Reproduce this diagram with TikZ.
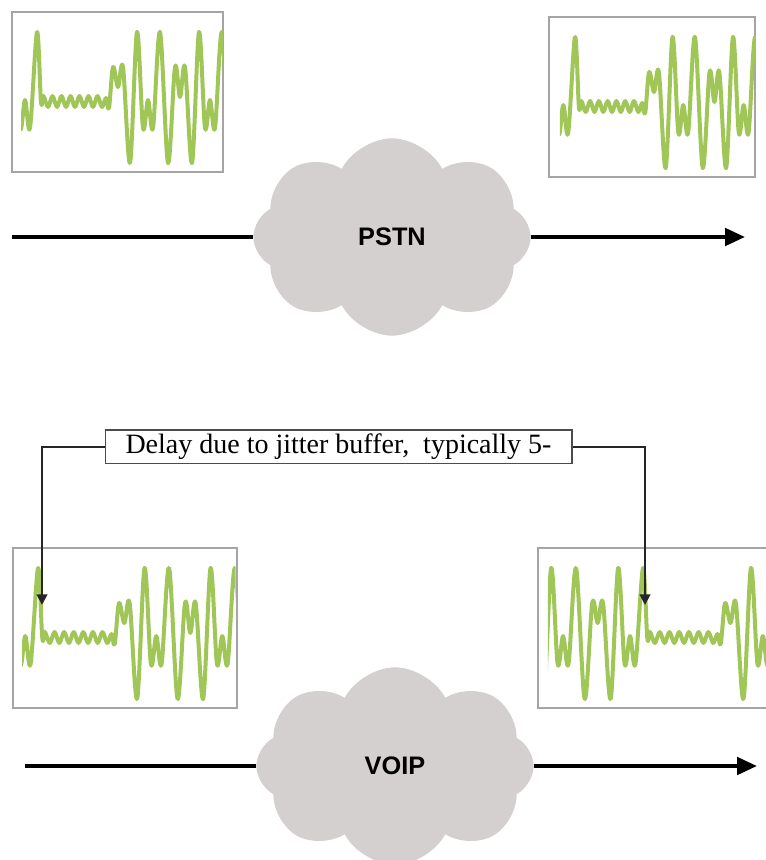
\documentclass[tikz,border=0pt]{standalone}
\usepackage{fontspec}
\setmainfont{Liberation Serif}
\setsansfont{Liberation Sans}
\usetikzlibrary{shapes.symbols,arrows.meta}

\definecolor{wavegreen}{RGB}{160,198,88}
\definecolor{cloudgray}{RGB}{213,208,208}
\definecolor{framegray}{RGB}{165,165,165}

% one stretch of the voice signal: burst, quiet ripple, burst
\newcommand{\signalpath}{plot[smooth,tension=0.55] coordinates {(-120,151) (-113,55) (-108,75) (-103,55) (-96,151) (-89,20) (-83,116) (-78,88) (-73,116) (-66,20) (-58,151) (-51,55) (-46,75) (-41,55) (-34,151) (-27,20) (-21,116) (-16,88) (-11,116) (-4,20) (0,90) (2.5,84) (7,95) (11.5,84) (16,95) (20.5,84) (25,95) (29.5,84) (34,95) (38.5,84) (43,95) (47.5,84) (52,95) (56.5,84) (61,95) (65,86) (68,96) (72,55) (77,75) (82,55) (89,151) (96,20) (102,116) (107,88) (112,116) (119,20) (127,151) (134,55) (139,85) (144,55) (151,151) (158,20) (164,116) (169,88) (174,116) (181,20) (189,151) (196,55)}}

\begin{document}
\begin{tikzpicture}[x=0.75pt,y=-0.75pt]

\def\boxh{120pt}
\def\netw{208pt}
\def\neth{148pt}

\tikzset{framebox/.style = {draw=framegray, line width=0.8pt, anchor=north west, minimum height=\boxh, inner sep=0pt, outer sep=0pt},
  wave/.style = {wavegreen, line width=3pt, line join=round},
  net/.style = {cloud, cloud puffs=8, cloud puff arc=125, aspect=1.45, fill=cloudgray, minimum width=\netw, minimum height=\neth, inner sep=0pt, font=\sffamily\bfseries\fontsize{19}{22}\selectfont},
  flow/.style = {line width=3pt, black},
  callout/.style = {line width=1.5pt, black!85, -{Triangle[length=8pt,width=8pt]}},
  delaybox/.style = {draw=black!70, line width=1pt, fill=white, minimum width=350pt, minimum height=25pt, inner sep=0pt, font=\fontsize{21}{25}\selectfont}}

\useasboundingbox (0,0) rectangle (766,860);
\clip (0,0) rectangle (766,860);

% PSTN
\node[framebox, minimum width=158.25pt] (pstnsrc) at (12,12) {};
\node[framebox, minimum width=154.5pt] (pstndst) at (549,17) {};

\begin{scope}[shift={(41,12)}]
\clip (-20,0) rectangle (182,160);
\draw[wave] \signalpath;
\end{scope}

\begin{scope}[shift={(578.9,17)}, xscale=0.975]
\clip (-19.5,0) rectangle (181.5,160);
\draw[wave] \signalpath;
\end{scope}

\node[net] (pstn) at (392,237) {PSTN};

\coordinate (pstnin) at (12,237);
\coordinate (pstnout) at (745,237);
\draw[flow] (pstnin) -- (pstn);
\draw[flow, -{Triangle[length=15pt,width=13pt]}] (pstn) -- (pstnout);

% VOIP
\node[framebox, minimum width=168pt] (voipsrc) at (13,548) {};
\node[framebox, minimum width=180pt] (voipdst) at (538,548) {};

\begin{scope}[shift={(42.3,548)}, xscale=1.065]
\clip (-19,0) rectangle (181.5,160);
\draw[wave] \signalpath;
\end{scope}

\begin{scope}[shift={(647.3,548)}, xscale=1.08]
\clip (-92,0) rectangle (112,160);
\draw[wave] \signalpath;
\end{scope}

\node[net] (voip) at (395,766) {VOIP};

\coordinate (voipin) at (25,766);
\coordinate (voipout) at (757,766);
\draw[flow] (voipin) -- (voip);
\draw[flow, -{Triangle[length=15pt,width=13pt]}] (voip) -- (voipout);

% jitter buffer delay
\node[delaybox] (delay) at (338.5,446.5) {Delay due to jitter buffer,\ \ typically 5-};

\coordinate (tipl) at (42,605);
\coordinate (tipr) at (645,605);
\draw[callout] (delay.west) -| (tipl);
\draw[callout] (delay.east) -| (tipr);

\end{tikzpicture}
\end{document}
